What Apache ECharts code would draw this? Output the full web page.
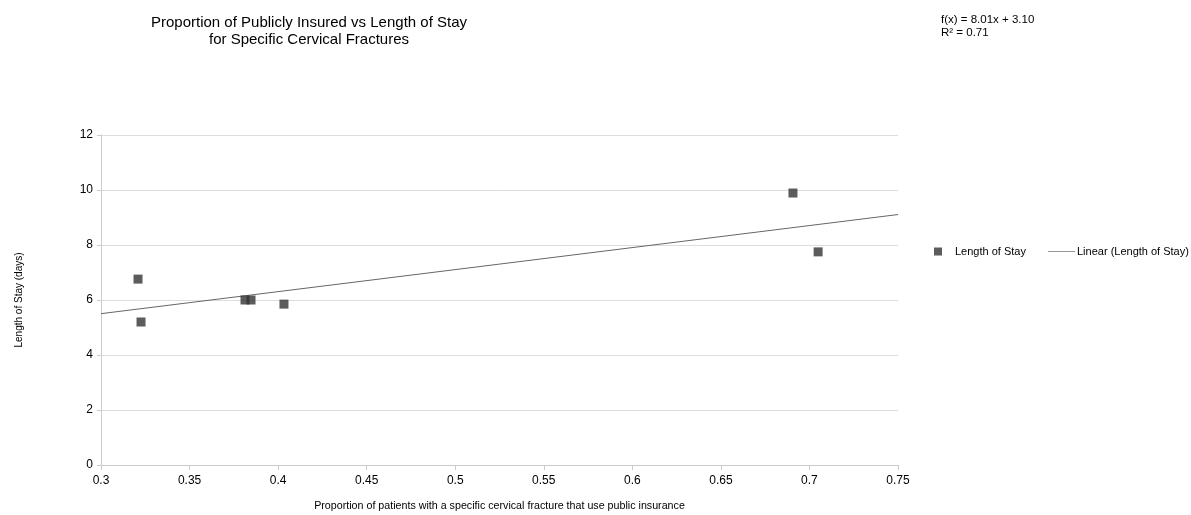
<!DOCTYPE html>
<html>
<head>
<meta charset="utf-8">
<script src="https://cdn.jsdelivr.net/npm/echarts@6/dist/echarts.min.js"></script>
<style>html,body{margin:0;padding:0;background:#fff}#c{width:1191px;height:515px}</style>
</head>
<body>
<div id="c"></div>
<script>
// Data
const proportionPublic = [0.3209, 0.3226, 0.3813, 0.3847, 0.4033, 0.6907, 0.7049];
const lengthOfStay = [6.76, 5.20, 6.00, 6.00, 5.85, 9.89, 7.75];
const trendSlope = 8.01;
const trendIntercept = 3.10;
const rSquared = 0.71;
const xTicks = [0.3, 0.35, 0.4, 0.45, 0.5, 0.55, 0.6, 0.65, 0.7, 0.75];
const yTicks = [0, 2, 4, 6, 8, 10, 12];

const xMin = xTicks[0], xMax = xTicks[xTicks.length - 1];
const scatterData = proportionPublic.map((x, i) => [x, lengthOfStay[i]]);
const trendData = [xMin, xMax].map(x => [x, trendSlope * x + trendIntercept]);

const font = '"Liberation Sans", Arial, sans-serif';
const chart = echarts.init(document.getElementById('c'), null, {renderer: 'canvas'});
chart.setOption({
  animation: false,
  textStyle: {fontFamily: font},
  title: {
    text: 'Proportion of Publicly Insured vs Length of Stay\nfor Specific Cervical Fractures',
    left: 304, top: 9, textAlign: 'center',
    textStyle: {fontFamily: font, fontSize: 15, fontWeight: 'normal', color: '#000', lineHeight: 17}
  },
  graphic: [{
    type: 'text', left: 941, top: 14,
    style: {
      text: 'f(x) = ' + trendSlope.toFixed(2) + 'x + ' + trendIntercept.toFixed(2) + '\nR² = ' + rSquared.toFixed(2),
      fontFamily: font, fontSize: 11.5, fill: '#000', lineHeight: 12.5
    }
  }],
  legend: [{
    data: ['Length of Stay'], left: 929, top: 241, icon: 'rect',
    itemWidth: 8, itemHeight: 8, itemGap: 10,
    textStyle: {fontFamily: font, fontSize: 11, color: '#000', padding: [0, 0, 0, 8]}
  }, {
    data: ['Linear (Length of Stay)'], left: 1043, top: 241,
    icon: 'path://M0,0 L40,0 L40,1 L0,1 Z',
    itemWidth: 27, itemHeight: 1, itemGap: 10,
    textStyle: {fontFamily: font, fontSize: 11, color: '#000', padding: [0, 0, 0, -3]}
  }],
  grid: {left: 101, right: 293, top: 135, bottom: 50, containLabel: false, outerBoundsMode: 'none'},
  xAxis: {
    type: 'value', min: xMin, max: xMax, interval: 0.05,
    name: 'Proportion of patients with a specific cervical fracture that use public insurance',
    nameLocation: 'middle', nameGap: 36,
    nameTextStyle: {fontFamily: font, fontSize: 10.7, color: '#000'},
    axisLine: {show: true, lineStyle: {color: '#cccccc'}},
    axisTick: {show: true, length: 5, lineStyle: {color: '#cccccc'}},
    axisLabel: {fontFamily: font, fontSize: 12, color: '#000', margin: 10,
      formatter: v => String(parseFloat(v.toFixed(2)))},
    splitLine: {show: false}
  },
  yAxis: {
    type: 'value', min: yTicks[0], max: yTicks[yTicks.length - 1], interval: 2,
    name: 'Length of Stay (days)', nameLocation: 'middle', nameGap: 77, nameRotate: 90,
    nameTextStyle: {fontFamily: font, fontSize: 10, color: '#000'},
    axisLine: {show: true, lineStyle: {color: '#cccccc'}},
    axisTick: {show: true, length: 4, lineStyle: {color: '#cccccc'}},
    axisLabel: {fontFamily: font, fontSize: 12, color: '#000', margin: 8},
    splitLine: {show: true, lineStyle: {color: '#dddddd', width: 1}}
  },
  series: [{
    name: 'Length of Stay', type: 'scatter', data: scatterData,
    symbol: 'rect', symbolSize: 9,
    itemStyle: {color: '#333333'}, z: 3
  }, {
    name: 'Linear (Length of Stay)', type: 'line', data: trendData,
    symbol: 'none', showSymbol: false,
    lineStyle: {color: '#666666', width: 1},
    itemStyle: {color: '#666666'}, z: 2
  }]
});
</script>
</body>
</html>
